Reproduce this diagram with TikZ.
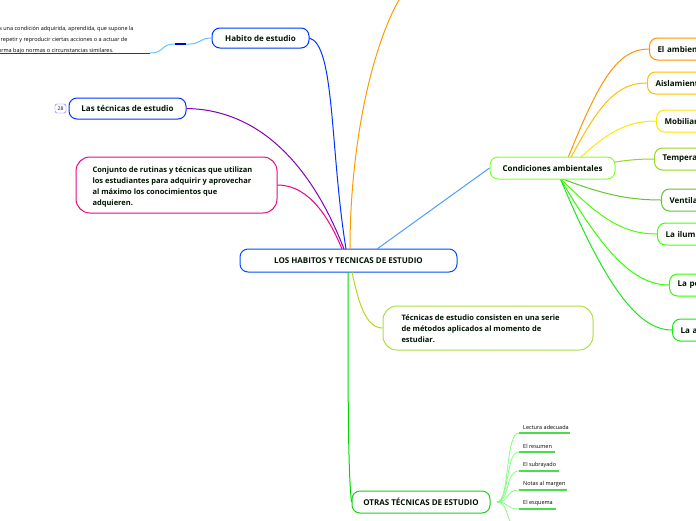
\documentclass[tikz,border=0pt]{standalone}
\usepackage{fontspec}
\setmainfont{Open Sans}
\begin{document}
\begin{tikzpicture}[x=1pt,y=-1pt,
  box/.style={draw=#1,line width=1pt,rounded corners=8pt,fill=white,inner sep=0pt,font=\bfseries\fontsize{8}{10}\selectfont,text=black!80!green!40!black},
  con/.style={line width=1pt,draw=#1},
  leaf/.style={font=\fontsize{5.5}{7}\selectfont,anchor=west,inner sep=0pt}]
\useasboundingbox (0,0) rectangle (696,520);
\begin{scope}
\clip (0,0) rectangle (696,520);
% right nodes
\foreach \n/\x/\y/\col/\txt in {
 r1/649/49/orange!85!yellow/El ambiente,
 r2/647/83/orange!50!yellow/Aislamiento,
 r3/656/121/yellow!90!orange/Mobiliario,
 r4/654/159/yellow!60!green/Temperatura,
 r5/661/200/yellow!40!green/Ventilación,
 r6/657/234/green!70!yellow/La iluminación,
 r7/669/285/green!80!yellow/La postura,
 r8/672/330/green!90!black!90!white/La alimentación}{
  \node[box=\col,minimum height=22pt,anchor=west,text width=90pt,inner xsep=8pt] (\n) at (\x,\y) {\txt};
  \draw[con=\col] (560,178) .. controls ({560+(\x-560)*0.4},{178+(\y-178)*0.7}) and ({\x-35},\y) .. (\n.west);
}
\node[box=blue!70!cyan,minimum width=217pt,minimum height=23pt] (c) at (348.5,260.5) {LOS HABITOS Y TECNICAS DE ESTUDIO};
\node[box=blue!80!cyan,minimum width=97pt,minimum height=20pt] (h) at (260.5,38) {Habito de estudio};
\node[box=blue!80!cyan,minimum width=117pt,minimum height=21pt] (t) at (127.5,108.5) {Las técnicas de estudio};
\node[draw=blue!60,rounded corners=1.5pt,font=\fontsize{5}{6}\selectfont,inner sep=0.5pt,minimum width=11pt,minimum height=9pt] (b28) at (60.5,108.5) {28};
\node[box=magenta!90!purple,minimum width=201pt,minimum height=56pt,rounded corners=14pt] (cj) at (176.5,185) {};
\node[anchor=west,font=\bfseries\fontsize{7.5}{11.3}\selectfont,align=left,text=black!80!green!40!black] (cjt) at (89,187) {Conjunto de rutinas y técnicas que utilizan\\los estudiantes para adquirir y aprovechar\\al máximo los conocimientos que\\adquieren.};
\node[box=green!60!yellow!80!white,minimum width=125pt,minimum height=22pt] (ca) at (552.5,168) {Condiciones ambientales};
\node[box=yellow!60!green!80!white,minimum width=210pt,minimum height=44pt,rounded corners=14pt] (tc) at (488,328) {};
\node[anchor=west,font=\bfseries\fontsize{7.5}{11}\selectfont,align=left,text=black!80!green!40!black] (tct) at (398,329) {Técnicas de estudio consisten en una serie\\de métodos aplicados al momento de\\estudiar.};
\node[box=green!80!black!90!white,minimum width=138pt,minimum height=22pt] (ot) at (421,502) {OTRAS TÉCNICAS DE ESTUDIO};
% left text
\node[anchor=west,font=\fontsize{5.5}{11}\selectfont,align=left,inner sep=0pt] (lt) at (-4,40) {es una condición adquirida, aprendida, que supone la\\a repetir y reproducir ciertas acciones o a actuar de\\forma bajo normas o circunstancias similares.};
\coordinate (u0) at (0,53); \coordinate (u1) at (150,53);
\draw[con=blue!80!cyan] (u0) -- (u1);
\draw[con=blue!40!cyan!60] (u1) .. controls (165,53) and (160,44) .. (175,44) -- (190,44) .. controls (200,44) and (200,38) .. (h.west);
\draw[blue!80!black,line width=1.3pt] (175,44) -- (186,44);
% center connectors
\draw[con=blue!80!cyan] (h.east) .. controls (335,45) and (330,150) .. (346,249);
\draw[con=violet!70!magenta!80!blue] (t.east) .. controls (280,110) and (325,200) .. (344,249);
\draw[con=magenta] (cj.east) .. controls (310,185) and (330,220) .. (342,249);
\draw[con=orange!80!yellow] (350,249) .. controls (350,150) and (370,50) .. (400,-2);
\coordinate (cr) at (377,249);
\draw[con=blue!55!cyan!70] (cr) -- (ca.west);
\draw[con=yellow!70!green] (352,272) .. controls (358,300) and (365,328) .. (tc.west);
\draw[con=green!85!black] (348,272) .. controls (348,400) and (348,470) .. (ot.west);
% leaves
\coordinate (os) at (497,502);
\foreach \n/\y/\w/\txt in {l1/427/51/Lectura adecuada,l2/446/36/El resumen,l3/465/40/El subrayado,l4/484/48/Notas al margen,l5/503/37/El esquema,l6/522/50/ }{
  \node[leaf] (\n) at (523,\y) {\txt};
  \coordinate (\n a) at (519,\y+6); \coordinate (\n b) at (519+\w,\y+6);
  \draw[line width=1.3pt,green!80!black!70!white] (\n a) -- (\n b);
  \draw[green!50!white,line width=0.8pt] (os) .. controls (510,502) and (505,\y+6) .. (\n a);
}
\end{scope}
\end{tikzpicture}
\end{document}
